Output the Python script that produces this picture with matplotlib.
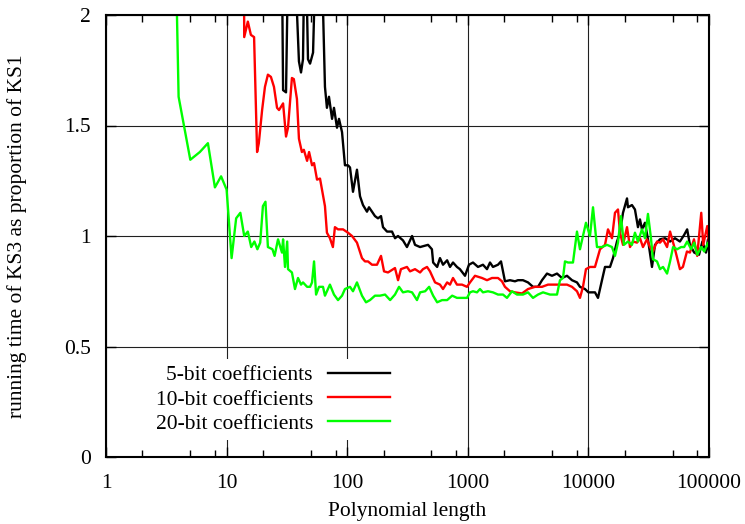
import matplotlib
matplotlib.use('Agg')
import matplotlib.pyplot as plt
from matplotlib.ticker import FixedLocator, LogLocator, FuncFormatter, NullFormatter

# polynomial lengths and KS3/KS1 time ratios
x5 = [27, 29.4, 31.1, 33.5, 39.8, 41.4, 43.0, 44.7, 47.3, 49.2, 52.1, 56.2, 60.6, 65.4,
      67.9, 70.6, 74.9, 77.7, 82.3, 85.5, 90.6, 95.8, 101.5, 105.5, 111.7, 120.5, 127.7,
      135.2, 145.9, 151.6, 160.6, 170, 180, 190.7, 198.1, 213.9, 235.3, 249.2, 263.9,
      290.2, 313, 345, 365, 402, 468, 504, 516, 557, 588, 623, 674, 712, 754, 813, 860,
      948, 1023, 1104, 1215, 1336, 1443, 1528, 1617, 1780, 1885, 1958, 2033, 2237, 2462,
      2606, 2868, 3156, 3472, 3821, 4124, 4536, 4991, 5491, 6040, 6644, 7310, 8041, 8514,
      9370, 10000, 11340, 12010, 12960, 13730, 15110, 15990, 17260, 18280, 19360, 20900,
      21280, 22970, 24320, 25760, 26770, 27810, 29450, 31180, 33670, 35650, 39240, 43200,
      47550, 52230, 57390, 62230, 65900, 69490, 75390, 82690, 88120, 94320, 98110, 100000]
y5 = [4.0, 1.66, 1.65, 2.8, 1.79, 1.74, 1.80, 2.5, 1.80, 1.78, 1.83, 2.5, 2.4, 1.675,
      1.58, 1.63, 1.53, 1.58, 1.49, 1.53, 1.47, 1.32, 1.32, 1.31, 1.20, 1.30, 1.18,
      1.14, 1.11, 1.13, 1.11, 1.09, 1.08, 1.09, 1.04, 1.02, 1.02, 0.99, 1.00,
      0.98, 0.95, 1.00, 0.96, 0.95, 0.96, 0.94, 0.88, 0.86, 0.90, 0.87, 0.89, 0.86, 0.88, 0.86, 0.85,
      0.82, 0.87, 0.88, 0.86, 0.87, 0.85, 0.88, 0.86, 0.87, 0.885, 0.84, 0.795, 0.80, 0.795,
      0.80, 0.80, 0.79, 0.77, 0.77, 0.80, 0.83, 0.82, 0.83, 0.81, 0.82, 0.80, 0.79, 0.77,
      0.76, 0.745, 0.745, 0.72, 0.80, 0.86, 0.86, 0.90, 0.975, 1.015, 1.105, 1.17,
      1.13, 1.14, 1.12, 1.04, 1.075, 1.03, 1.06, 0.985, 0.86, 0.96, 0.985, 0.99,
      0.975, 0.99, 0.975, 1.005, 1.03, 0.96, 0.925, 0.915, 0.975, 0.925, 0.985, 0.93]

x10 = [13, 14, 15, 15.9, 16.9, 17.9, 18.5, 19.7, 20.8, 22, 23.3, 24.7, 26.2, 27.2, 29.4,
       31.1, 32.3, 34.8, 36.1, 38.3, 39.8, 42.1, 43.7, 46.5, 48.3, 51.1, 53.1, 56.2, 59.5,
       65.4, 67.9, 71.9, 76.1, 79.1, 83.9, 92.4, 101.5, 109.6, 120.5, 132.6, 140.5, 148.8,
       160.6, 176.6, 190.7, 202, 218, 249, 264, 279, 313, 332, 365, 402, 425, 459, 486,
       535, 588, 623, 674, 712, 754, 813, 895, 985, 1043, 1147, 1311, 1443, 1587, 1780,
       1920, 2033, 2237, 2462, 2814, 3156, 3608, 4124, 4624, 5285, 6040, 6644, 7310, 8041,
       8514, 9015, 9546, 10310, 11340, 12480, 13730, 14540, 15690, 16610, 17590, 18280,
       19360, 20900, 22130, 23420, 25290, 26770, 28350, 30600, 32400, 34290, 37060, 39240,
       41560, 44900, 47550, 52230, 57390, 60770, 65630, 69490, 75060, 79840, 86250, 89570,
       96760, 100000]
y10 = [6.0, 1.90, 1.97, 1.91, 1.90, 1.38, 1.42, 1.57, 1.675, 1.73, 1.72, 1.675, 1.58, 1.57, 1.60,
       1.45, 1.49, 1.715, 1.71, 1.62, 1.44, 1.38, 1.39, 1.34, 1.38, 1.32, 1.33, 1.255, 1.26,
       1.135, 1.015, 0.99, 0.95, 1.04, 1.03, 1.03, 1.015, 1.00, 0.97, 0.90, 0.885, 0.885,
       0.87, 0.87, 0.91, 0.84, 0.835, 0.855, 0.80, 0.85, 0.86, 0.84, 0.85, 0.835, 0.85, 0.86, 0.84,
       0.79, 0.78, 0.76, 0.79, 0.78, 0.81, 0.78, 0.78, 0.77, 0.79, 0.82, 0.81, 0.80, 0.81, 0.81,
       0.795, 0.77, 0.75, 0.745, 0.74, 0.76, 0.77, 0.77, 0.78, 0.78, 0.78, 0.78, 0.77, 0.75,
       0.72, 0.77, 0.85, 0.86, 0.86, 0.94, 0.96, 1.03, 0.99, 1.105, 1.12, 1.015,
       0.96, 1.04, 0.95, 0.975, 0.97, 0.99, 0.95, 0.985, 0.95, 0.93, 0.975, 0.97,
       0.985, 0.95, 1.02, 0.94, 0.85, 0.86, 0.93, 0.925, 0.985, 0.91, 1.105, 0.96,
       1.045, 0.97]

x20 = [3, 4, 5, 6, 7, 8, 9, 10, 11, 12, 13, 14, 15, 16, 17, 18, 19, 20, 21, 22, 24, 25,
       26.7, 28.8, 29.4, 30.5, 31.8, 32.3, 34.8, 36.9, 39.1, 41.4, 43, 46.5, 49.2, 51.1,
       53.1, 55.2, 58.4, 63, 65.4, 71.9, 77.7, 83.9, 90.6, 95.8, 105.5, 111.7, 120.5,
       132.6, 143.2, 154.5, 170, 187, 206, 227, 249, 269, 290, 319, 345, 379, 402, 443,
       478, 516, 557, 612, 674, 742, 813, 895, 985, 1043, 1104, 1192, 1262, 1336, 1470,
       1617, 1780, 1958, 2113, 2325, 2558, 2868, 3156, 3472, 3821, 4204, 4804, 5491, 5814,
       6157, 6395, 6772, 7450, 8041, 8514, 9015, 9546, 10310, 10920, 11780, 12960, 14260,
       15690, 16610, 17590, 18620, 19720, 21280, 22970, 24320, 25760, 27810, 29450, 31180,
       33020, 34290, 37060, 39240, 41560, 44900, 47550, 50350, 54400, 58770, 62230, 65900,
       71190, 75390, 79840, 86250, 91330, 98110, 100000]
y20 = [5.0, 1.63, 1.345, 1.38, 1.42, 1.22, 1.27, 1.21, 0.90, 1.08, 1.105, 1.00, 1.02, 0.95,
       0.975, 0.94, 0.97, 1.135, 1.155, 0.95, 0.94, 0.91,
       0.985, 0.925, 0.985, 0.86, 0.975, 0.85, 0.835, 0.76, 0.81, 0.78, 0.79, 0.77, 0.77, 0.79,
       0.885, 0.735, 0.77, 0.77, 0.73, 0.78, 0.735, 0.71, 0.73, 0.76, 0.77, 0.75, 0.79,
       0.73, 0.70, 0.71, 0.73, 0.73, 0.735, 0.71, 0.735, 0.77, 0.745, 0.75, 0.745, 0.71, 0.745, 0.75,
       0.77, 0.73, 0.70, 0.71, 0.71, 0.73, 0.72, 0.72, 0.72, 0.745, 0.75, 0.745, 0.76, 0.745, 0.75,
       0.745, 0.735, 0.735, 0.72, 0.75, 0.735, 0.735, 0.745, 0.72, 0.735, 0.745, 0.735, 0.735, 0.80,
       0.81, 0.885, 0.88, 0.88, 1.02, 0.94, 1.00, 1.06, 1.00, 1.13, 0.95, 0.95, 0.96,
       0.95, 0.91, 0.97, 1.09, 0.96, 0.975, 0.96, 1.015, 0.975, 1.03, 0.99, 1.10,
       0.99, 0.895, 0.885, 0.85, 0.86, 0.83, 0.885, 0.95, 0.94, 0.95, 0.95, 0.975,
       0.94, 0.97, 0.915, 0.95, 0.93, 0.97, 0.95]

x_ticks = [1, 10, 100, 1000, 10000, 100000]
y_ticks = [0, 0.5, 1, 1.5, 2]
y_tick_labels = ['0', '0.5', '1', '1.5', '2']

plt.rcParams['font.family'] = ['Liberation Serif', 'DejaVu Serif']
plt.rcParams['font.size'] = 15.5

fig = plt.figure(figsize=(7.45, 5.24), dpi=100)
ax = fig.add_axes([106 / 745, 67 / 524, 603 / 745, 442 / 524])

ax.plot(x5, y5, color='black', lw=1.7, label='5-bit coefficients')
ax.plot(x10, y10, color='#ff0000', lw=1.7, label='10-bit coefficients')
ax.plot(x20, y20, color='#00ff00', lw=1.7, label='20-bit coefficients')

ax.set_xscale('log')
ax.set_xlim(1, 100000)
ax.set_ylim(0, 2)

ax.xaxis.set_major_locator(FixedLocator(x_ticks))
ax.xaxis.set_major_formatter(FuncFormatter(lambda v, p: '%d' % round(v)))
ax.xaxis.set_minor_locator(LogLocator(base=10, subs=(2, 5, 8), numticks=20))
ax.xaxis.set_minor_formatter(NullFormatter())
ax.set_yticks(y_ticks)
ax.set_yticklabels(y_tick_labels)

ax.tick_params(which='both', direction='in', top=True, right=True, width=1)
ax.tick_params(which='major', length=7)
ax.tick_params(which='minor', length=5)
ax.tick_params(axis='x', pad=12)
ax.tick_params(axis='y', pad=11)
ax.grid(True, which='major', color='#202020', lw=0.8)
for s in ax.spines.values():
    s.set_linewidth(1.5)

ax.set_xlabel('Polynomial length')
ax.xaxis.set_label_coords(0.5, -0.101)
ax.set_ylabel('running time of KS3 as proportion of KS1')
ax.yaxis.set_label_coords(-0.131, 0.5)

ax.legend(loc='center', bbox_to_anchor=(0.277, 0.130), markerfirst=False,
          frameon=True, fancybox=False, edgecolor='none', facecolor='white',
          framealpha=1, handlelength=2.9, handletextpad=0.7, labelspacing=0.2,
          borderpad=0.3)

fig.savefig('out.png', dpi=100)
